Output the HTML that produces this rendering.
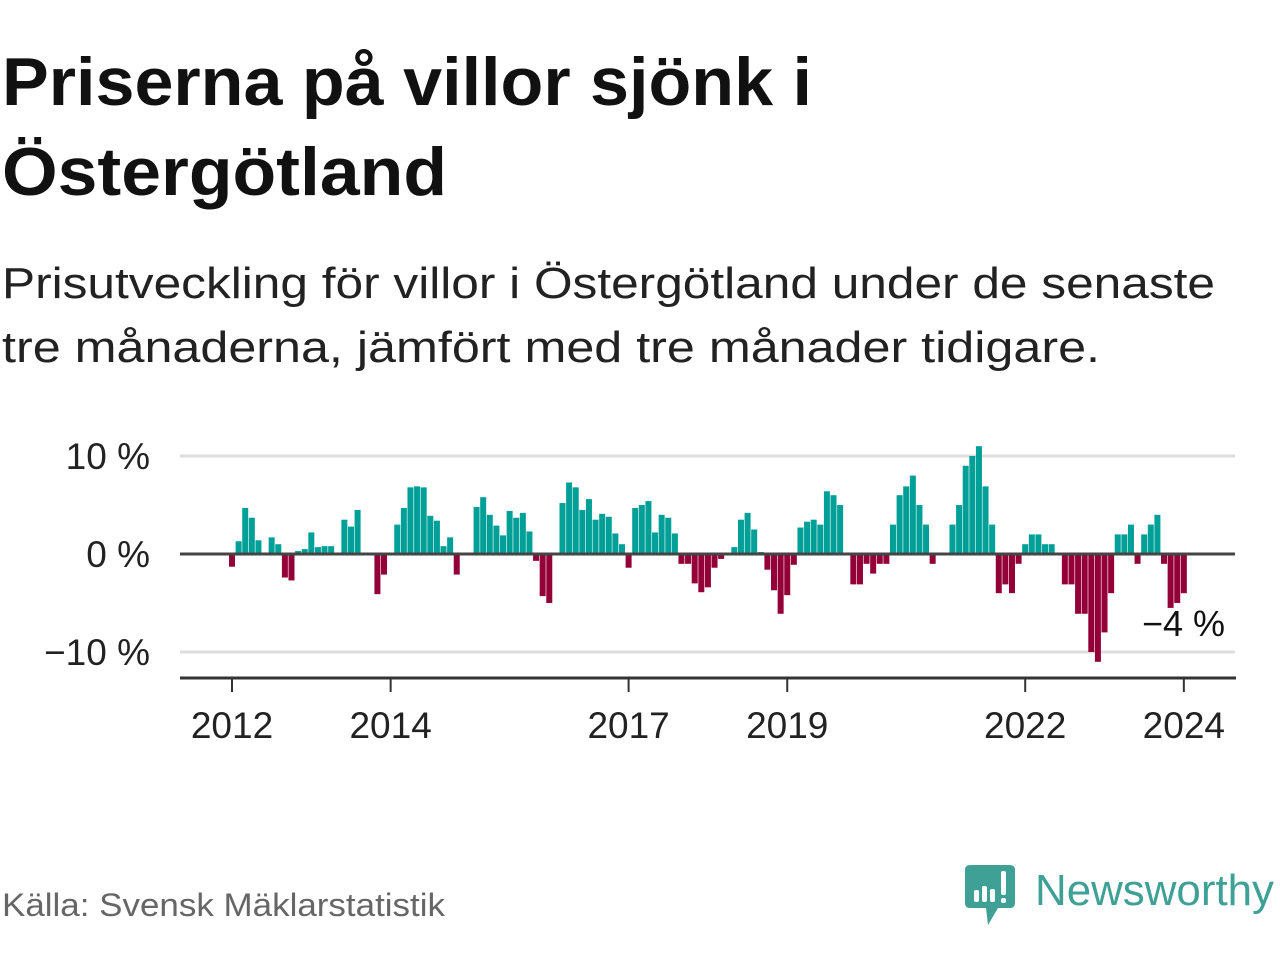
<!DOCTYPE html>
<html><head><meta charset="utf-8"><style>
html,body{margin:0;padding:0;background:#fff;}
svg{display:block;font-family:"Liberation Sans",sans-serif;}
</style></head><body>
<svg id="chart" width="1280" height="960" viewBox="0 0 1280 960">
<text x="2" y="105" font-size="68" font-weight="bold" fill="#111" textLength="810" lengthAdjust="spacingAndGlyphs">Priserna på villor sjönk i</text>
<text x="2" y="195" font-size="68" font-weight="bold" fill="#111" textLength="445" lengthAdjust="spacingAndGlyphs">Östergötland</text>
<text x="2" y="298" font-size="44" fill="#222" textLength="1213" lengthAdjust="spacingAndGlyphs">Prisutveckling för villor i Östergötland under de senaste</text>
<text x="2" y="362" font-size="44" fill="#222" textLength="1098" lengthAdjust="spacingAndGlyphs">tre månaderna, jämfört med tre månader tidigare.</text>
<g id="grid"></g>
<g id="bars"></g>
<g id="axes"></g>
<text x="1225" y="636" font-size="36" fill="#111" text-anchor="end">−4 %</text>
<text x="2" y="916" font-size="32" fill="#666" textLength="443" lengthAdjust="spacingAndGlyphs">Källa: Svensk Mäklarstatistik</text>
<g>
<path d="M970 865 H1010 Q1015 865 1015 870 V903 Q1015 908 1010 908 H998 L988 925 L986 908 H970 Q965 908 965 903 V870 Q965 865 970 865 Z" fill="#3fa095"/>
<rect x="974" y="890" width="5" height="12" rx="2" fill="#fff"/>
<rect x="982" y="886" width="5" height="16" rx="2" fill="#fff"/>
<rect x="990" y="889" width="5" height="13" rx="2" fill="#fff"/>
<rect x="1001" y="871" width="5" height="24" rx="2" fill="#fff"/>
<rect x="1001" y="898" width="5" height="5" rx="2" fill="#fff"/>
<text x="1035" y="905" font-size="44" fill="#3fa095" textLength="239" lengthAdjust="spacingAndGlyphs">Newsworthy</text>
</g>
</svg>
<script>
const values = [-1.3,1.3,4.7,3.7,1.4,0,1.7,1.0,-2.4,-2.7,0.3,0.5,
2.2,0.7,0.8,0.8,0,3.5,2.8,4.5,0,0,-4.1,-2.1,
0,3.0,4.7,6.8,6.9,6.8,3.9,3.4,0.8,1.7,-2.1,0,
0,4.8,5.8,4.0,2.9,1.9,4.4,3.7,4.2,2.3,-0.7,-4.3,
-5.0,0,5.2,7.3,6.8,4.5,5.6,3.5,4.1,3.8,2.1,1.0,
-1.4,4.7,5.0,5.4,2.2,4.0,3.7,2.1,-1.0,-1.0,-3.0,-3.9,
-3.4,-1.4,-0.5,0,0.7,3.5,4.2,2.5,0.2,-1.6,-3.7,-6.1,
-4.2,-1.1,2.7,3.3,3.5,3.0,6.4,6.0,5.0,0,-3.1,-3.1,
-1.0,-2.0,-1.0,-1.0,3.0,6.0,6.9,8.0,5.0,3.0,-1.0,0,
0,3.0,5.0,9.0,10.0,11.0,6.9,3.0,-4.0,-3.1,-4.0,-1.0,
1.0,2.0,2.0,1.0,1.0,0,-3.1,-3.1,-6.1,-6.1,-10.0,-11.0,
-8.0,-4.0,2.0,2.0,3.0,-1.0,2.0,3.0,4.0,-1.0,-5.5,-5.0,
-4.0];
const yTicks = [10, 0, -10];
const yTickLabels = ["10 %", "0 %", "−10 %"];
const xTickYears = [2012, 2014, 2017, 2019, 2022, 2024];
const startYear = 2012;

const NS = "http://www.w3.org/2000/svg";
const x = m => 232 + m * 6.61;
const y = v => 554 - v * 9.8;
const yearX = yr => x((yr - startYear) * 12);
function mk(tag, attrs, parent){const e=document.createElementNS(NS,tag);for(const k in attrs)e.setAttribute(k,attrs[k]);parent.appendChild(e);return e;}
const grid=document.getElementById('grid'), bars=document.getElementById('bars'), axes=document.getElementById('axes');
yTicks.forEach((t,i)=>{
  if(t!==0){
    const l=mk('line',{x1:180,x2:1235,y1:y(t),y2:y(t),stroke:'#ddd','stroke-width':3},grid);
    
    
  }
  const tx=mk('text',{x:150,y:y(t)+13,'font-size':37,fill:'#222','text-anchor':'end'},axes);
  tx.textContent=yTickLabels[i];
  
  
});
values.forEach((v,m)=>{
  if(v===0) return;
  const r=mk('rect',{x:x(m)-3,width:6,y:Math.min(y(v),y(0)),height:Math.abs(y(v)-y(0)),fill:v>0?'#00a098':'#930038'},bars);
  
  
});
const z=mk('line',{x1:180,x2:1235,y1:y(0),y2:y(0),stroke:'#444','stroke-width':3},axes);


const xa=mk('line',{x1:180,x2:1236,y1:678,y2:678,stroke:'#333','stroke-width':3},axes);


xTickYears.forEach(yr=>{
  const t=mk('line',{x1:yearX(yr),x2:yearX(yr),y1:678,y2:692,stroke:'#333','stroke-width':2},axes);
  
  
  const lb=mk('text',{x:yearX(yr),y:738,'font-size':37,fill:'#222','text-anchor':'middle'},axes);
  lb.textContent=yr;
  
  
});
</script>
</body></html>
